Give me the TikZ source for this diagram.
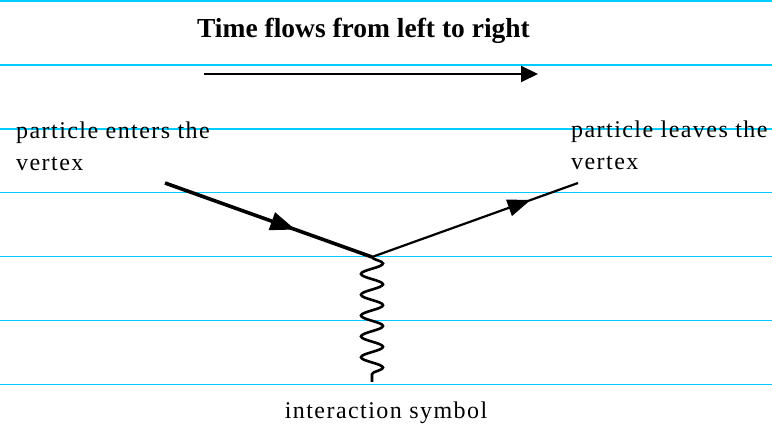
\documentclass[tikz,border=0pt]{standalone}
\usepackage{fontspec}
\setmainfont{Liberation Serif}
\usetikzlibrary{arrows.meta,decorations.markings,decorations.pathmorphing}
\definecolor{guide}{RGB}{0,204,255}
\begin{document}
\begin{tikzpicture}[x=1pt,y=-1pt,
  guideline/.style={guide, line width=1.3pt},
  lbl/.style={inner sep=0pt, align=left,
    font=\fontsize{24}{32}\selectfont\addfontfeatures{LetterSpace=6}},
  titlelbl/.style={inner sep=0pt, font=\fontsize{27.5}{33}\selectfont\bfseries},
  timearrow/.style={line width=2pt, -{Triangle[length=17pt,width=16pt]}},
  fermionin/.style={line width=3.6pt, postaction={decorate},
    decoration={markings, mark=at position 0.63 with {\arrow{Triangle[length=25pt,width=18pt]}}}},
  fermionout/.style={line width=2.2pt, postaction={decorate},
    decoration={markings, mark=at position 0.77 with {\arrow{Triangle[length=23pt,width=17pt]}}}},
  boson/.style={line width=2.6pt, decorate,
    decoration={snake, amplitude=11pt, segment length=20.83pt}}
]
\useasboundingbox (0,0) rectangle (772,430);
\fill[white] (0,0) rectangle (772,430);
% guide lines
\foreach \yy in {1,65,129,192.5,256.5,320.5,384.5}
  \draw[guideline] (0,\yy) -- (772,\yy);
% title and time arrow
\node[titlelbl, anchor=base] (title) at (363.5,38) {Time flows from left to right};
\coordinate (ts) at (204,74);
\coordinate (te) at (538,74);
\draw[timearrow] (ts) -- (te);
% vertex lines
\coordinate (in) at (165,183);
\coordinate (v) at (372,257);
\coordinate (out) at (578,183);
\coordinate (bot) at (372,382);
\draw[fermionin] (in) -- (v);
\draw[fermionout] (v) -- (out);
\draw[boson] (v) -- (bot);
% labels
\node[lbl, anchor=base west] (enter) at (16,171) {particle enters the\\vertex};
\node[lbl, anchor=base west] (leave) at (571,170) {particle leaves the\\vertex};
\node[lbl, anchor=base] (inter) at (386,419) {interaction symbol};
\end{tikzpicture}
\end{document}
